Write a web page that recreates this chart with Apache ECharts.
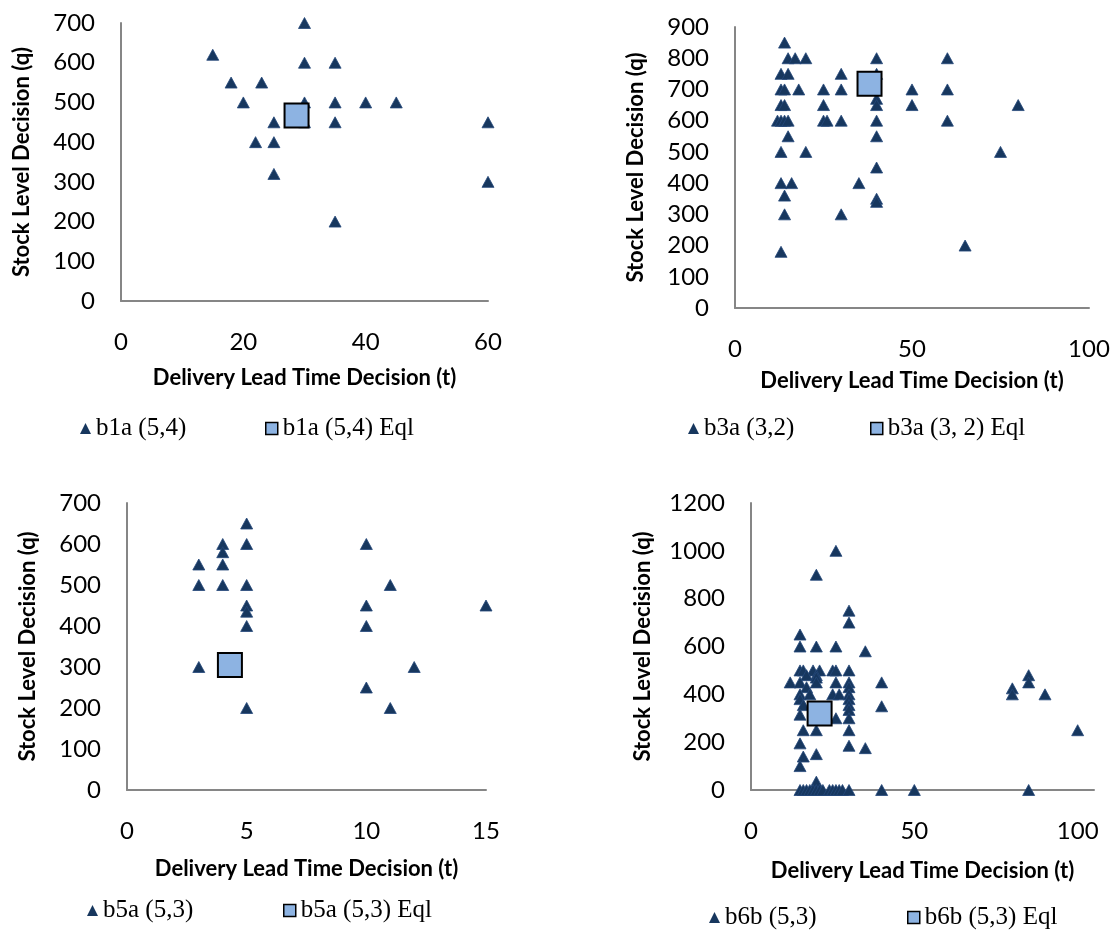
<!DOCTYPE html>
<html>
<head>
<meta charset="utf-8">
<script src="https://cdn.jsdelivr.net/npm/echarts@6/dist/echarts.min.js"></script>
<style>
  html, body { margin: 0; padding: 0; background: #fff; }
  #chart { width: 1118px; height: 931px; }
</style>
</head>
<body>
<div id="chart"></div>
<script>
// b1a (5,4)
var b1aLead  = [15, 18, 23, 20, 30, 30, 35, 30, 35, 40, 45, 25, 30, 35, 22, 25, 25, 35, 60, 60]
var b1aStock = [620, 550, 550, 500, 700, 600, 600, 500, 500, 500, 500, 450, 450, 450, 400, 400, 320, 200, 450, 300]
var b1aEql = [28.7, 467]

// b3a (3,2)
var b3aLead  = [14, 15, 17, 20, 40, 60, 13, 15, 30, 40, 13, 14, 18, 25, 30, 50, 60, 13, 14, 25, 40, 40, 50, 80,
                12, 13, 14, 15, 25, 26, 30, 40, 60, 15, 40, 13, 20, 75, 40, 13, 16, 35, 14, 40, 40, 14, 30, 13, 65]
var b3aStock = [850, 800, 800, 800, 800, 800, 750, 750, 750, 750, 700, 700, 700, 700, 700, 700, 700, 650, 650, 650, 670, 650, 650, 650,
                600, 600, 600, 600, 600, 600, 600, 600, 600, 550, 550, 500, 500, 500, 450, 400, 400, 400, 360, 350, 340, 300, 300, 180, 200]
var b3aEql = [38, 718]

// b5a (5,3)
var b5aLead  = [3, 3, 3, 4, 4, 4, 4, 5, 5, 5, 5, 5, 5, 5, 10, 10, 10, 10, 11, 11, 12, 15]
var b5aStock = [550, 500, 300, 600, 580, 550, 500, 650, 600, 500, 450, 435, 400, 200, 600, 450, 400, 250, 500, 200, 300, 450]
var b5aEql = [4.3, 305]

// b6b (5,3)
var b6bLead  = [15, 15, 20, 26, 35, 20, 26, 30, 30,
                15, 16, 19, 21, 25, 26, 30, 17, 20, 20,
                12, 15, 20, 26, 30, 40, 17, 30,
                15, 18, 25, 27, 30, 15, 30,
                16, 30, 40, 30, 15, 26, 30,
                16, 20, 30, 15, 30, 35, 20, 16, 15, 20,
                15, 16, 17, 18, 19, 20, 21, 22, 24, 25, 26, 27, 28, 30, 40, 50, 85,
                80, 80, 85, 85, 90, 100]
var b6bStock = [650, 600, 600, 600, 580, 900, 1000, 750, 700,
                500, 500, 500, 500, 500, 500, 500, 480, 480, 470,
                450, 450, 450, 450, 450, 450, 430, 430,
                400, 400, 400, 400, 400, 380, 380,
                355, 355, 350, 335, 315, 300, 300,
                250, 250, 250, 195, 185, 175, 150, 140, 100, 35,
                0, 0, 0, 0, 0, 0, 0, 0, 0, 0, 0, 0, 0, 0, 0, 0, 0,
                425, 400, 480, 450, 400, 250]
var b6bEql = [21, 320]

var panels = [
  { name: 'b1a (5,4)', eqlName: 'b1a (5,4) Eql', lead: b1aLead, stock: b1aStock, eql: b1aEql,
    grid: [121, 23, 367, 278], x: [0, 60, 20], y: [0, 700, 100], xGap: 66, yGap: 88,
    legend: [[80, 416], [265, 416]] },
  { name: 'b3a (3,2)', eqlName: 'b3a (3, 2) Eql', lead: b3aLead, stock: b3aStock, eql: b3aEql,
    grid: [735, 27, 354, 281], x: [0, 100, 50], y: [0, 900, 100], xGap: 62, yGap: 88,
    legend: [[688, 416], [870, 416]] },
  { name: 'b5a (5,3)', eqlName: 'b5a (5,3) Eql', lead: b5aLead, stock: b5aStock, eql: b5aEql,
    grid: [127, 503, 359, 287], x: [0, 15, 5], y: [0, 700, 100], xGap: 68, yGap: 88,
    legend: [[87, 898], [283, 898]] },
  { name: 'b6b (5,3)', eqlName: 'b6b (5,3) Eql', lead: b6bLead, stock: b6bStock, eql: b6bEql,
    grid: [751, 503, 343, 287], x: [0, 105, 50], y: [0, 1200, 200], xGap: 70, yGap: 97,
    legend: [[709, 905], [907, 905]] }
]

var triColor = '#17375E'
var eqlColor = '#8DB3E2'
var axisColor = '#868686'
var tickFont = { fontFamily: 'Lato', fontSize: 24, color: '#000' }
var nameFont = { fontFamily: 'Lato', fontSize: 22, fontWeight: 'bold', color: '#000' }
var legendFont = { fontFamily: 'Liberation Serif', fontSize: 25, color: '#000' }

var grids = [], xAxes = [], yAxes = [], series = [], legends = []

panels.forEach(function (p, i) {
  grids.push({ left: p.grid[0], top: p.grid[1], width: p.grid[2], height: p.grid[3], outerBoundsMode: 'none' })

  var xStep = p.x[2]
  xAxes.push({
    gridIndex: i, type: 'value', min: p.x[0], max: p.x[1], interval: xStep,
    name: 'Delivery Lead Time Decision (t)', nameLocation: 'middle', nameGap: p.xGap, nameTextStyle: nameFont,
    axisLine: { show: true, onZero: false, lineStyle: { color: axisColor, width: 2 } },
    axisTick: { show: false }, splitLine: { show: false },
    axisLabel: Object.assign({ margin: 29, formatter: function (v) { return v % xStep === 0 ? String(v) : '' } }, tickFont)
  })
  yAxes.push({
    gridIndex: i, type: 'value', min: p.y[0], max: p.y[1], interval: p.y[2],
    name: 'Stock Level Decision (q)', nameLocation: 'middle', nameGap: p.yGap, nameTextStyle: nameFont,
    axisLine: { show: true, lineStyle: { color: axisColor, width: 2 } },
    axisTick: { show: false }, splitLine: { show: false },
    axisLabel: Object.assign({ margin: 26, formatter: function (v) { return String(v) } }, tickFont)
  })

  var pts = p.lead.map(function (t, k) { return [t, p.stock[k]] })
  series.push({
    name: p.name, type: 'scatter', xAxisIndex: i, yAxisIndex: i, data: pts,
    symbol: 'triangle', symbolSize: [12, 11],
    itemStyle: { color: triColor, borderColor: '#25487A', borderWidth: 0.8, opacity: 1 }
  })
  series.push({
    name: p.eqlName, type: 'scatter', xAxisIndex: i, yAxisIndex: i, data: [p.eql],
    symbol: 'rect', symbolSize: 24, z: 3,
    itemStyle: { color: eqlColor, borderColor: '#000', borderWidth: 2, opacity: 1 }
  })

  legends.push({
    left: p.legend[0][0], top: p.legend[0][1], padding: 0, selectedMode: false,
    itemWidth: 11, itemHeight: 11, textStyle: legendFont,
    data: [{ name: p.name, icon: 'triangle', itemStyle: { color: triColor, borderWidth: 0 } }]
  })
  legends.push({
    left: p.legend[1][0], top: p.legend[1][1], padding: 0, selectedMode: false,
    itemWidth: 12, itemHeight: 12, textStyle: legendFont,
    data: [{ name: p.eqlName, icon: 'rect', itemStyle: { color: eqlColor, borderColor: '#000', borderWidth: 1.5 } }]
  })
})

var myChart = echarts.init(document.getElementById('chart'), null, { renderer: 'canvas' })
myChart.setOption({
  animation: false,
  backgroundColor: '#fff',
  grid: grids,
  xAxis: xAxes,
  yAxis: yAxes,
  legend: legends,
  series: series
})
</script>
</body>
</html>
